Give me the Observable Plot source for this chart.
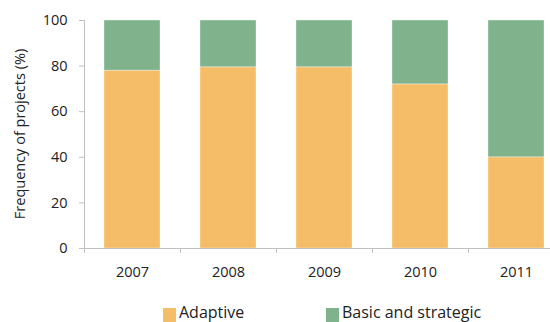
<!DOCTYPE html>
<html>
<head>
<meta charset="utf-8">
<script src="https://cdn.jsdelivr.net/npm/d3@7"></script>
<script src="https://cdn.jsdelivr.net/npm/@observablehq/plot@0.6"></script>
<style>
  html, body { margin: 0; padding: 0; background: #fff; overflow: hidden; }
  #wrap { position: relative; width: 550px; height: 322px; overflow: hidden; font-family: "Open Sans", sans-serif; color: #222; }
  .leg { position: absolute; top: 298px; height: 24px; display: flex; align-items: flex-start; font-size: 16px; line-height: 1; }
  .sw { width: 13px; height: 16px; margin-top: 10px; margin-right: 3px; }
  .lt { margin-top: 6px; }
</style>
</head>
<body>
<div id="wrap"></div>
<script>
const years = ["2007", "2008", "2009", "2010", "2011"];
const series = ["Adaptive", "Basic and strategic"];
const adaptive = [78, 79.5, 79.5, 72, 40];
const basic = [22, 20.5, 20.5, 28, 60];
const yTicks = [0, 20, 40, 60, 80, 100];
const yLabel = "Frequency of projects (%)";
const colors = ["#f5bd68", "#80b28b"];
const gridGray = "#bfbfbf";

const table = [];
years.forEach((yr, i) => {
  table.push({year: yr, series: series[0], value: adaptive[i]});
  table.push({year: yr, series: series[1], value: basic[i]});
});

const chart = Plot.plot({
  width: 550,
  height: 300,
  marginLeft: 84,
  marginTop: 20,
  marginBottom: 52,
  marginRight: 0,
  style: {fontFamily: "Open Sans", fontSize: "14px", color: "#222", background: "#fff"},
  x: {domain: years, range: [84, 564], paddingInner: 0.417, paddingOuter: 0.2085, align: 0.5, label: null},
  y: {domain: [0, 100], label: null},
  color: {domain: series, range: colors},
  marks: [
    Plot.barY(table, Plot.stackY({x: "year", y: "value", fill: "series", order: series, stroke: "#fff", strokeOpacity: 0.35, strokeWidth: 1})),
    Plot.ruleY([0], {stroke: gridGray, strokeWidth: 1}),
    Plot.axisY({ticks: yTicks, tickSize: 5, tickPadding: 12, stroke: gridGray, fill: "#222", label: null, fontSize: 14.5}),
    Plot.axisX({tickSize: 0, tickPadding: 18, fill: "#222", label: null, fontSize: 14.5})
  ]
});

// y axis line, category boundary ticks and y title placed with the plot's scales
const xs = chart.scale("x"), ys = chart.scale("y");
const svg = d3.select(chart);
const y0 = ys.apply(0), y100 = ys.apply(100);
const g = svg.append("g").attr("stroke", gridGray).attr("stroke-width", 1);
g.append("line").attr("x1", 84.5).attr("x2", 84.5).attr("y1", y100).attr("y2", y0);
const gap = xs.step - xs.bandwidth;
years.forEach(yr => {
  const bx = Math.round(xs.apply(yr) - gap / 2) + 0.5;
  g.append("line").attr("x1", bx).attr("x2", bx).attr("y1", y0).attr("y2", y0 + 5);
});
const yMid = (y0 + y100) / 2;
svg.append("text")
  .attr("transform", `translate(20,${yMid}) rotate(-90)`)
  .attr("text-anchor", "middle")
  .attr("dy", "0.35em")
  .attr("fill", "#222")
  .style("font-family", "Open Sans")
  .style("font-size", "14.5px")
  .text(yLabel);

const wrap = document.getElementById("wrap");
wrap.appendChild(chart);

const legPos = [163, 326];
series.forEach((s, i) => {
  const d = document.createElement("div");
  d.className = "leg";
  d.style.left = legPos[i] + "px";
  d.innerHTML = `<div class="sw" style="background:${colors[i]}"></div><div class="lt">${s}</div>`;
  wrap.appendChild(d);
});
</script>
</body>
</html>
